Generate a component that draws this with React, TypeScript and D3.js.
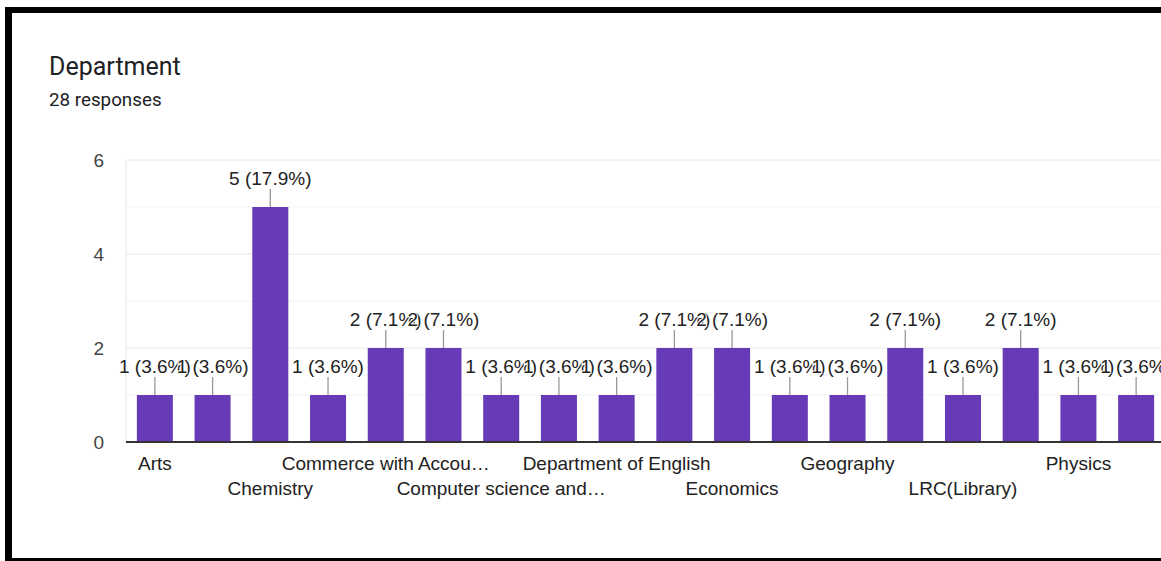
import React from "react";
import * as d3 from "d3";

const title = "Department";
const subtitle = "28 responses";
const categories = [
  "Arts",
  "Botany",
  "Chemistry",
  "Commerce",
  "Commerce with Accountancy",
  "Computer Applications",
  "Computer science and Engineering",
  "Department of Commerce",
  "Department of English",
  "Department of Mathematics",
  "Economics",
  "English",
  "Geography",
  "History",
  "LRC(Library)",
  "Mathematics",
  "Physics",
  "Zoology",
];
const counts = [1, 1, 5, 1, 2, 2, 1, 1, 1, 2, 2, 1, 1, 2, 1, 2, 1, 1];
const yTicks = [0, 2, 4, 6];
const yMinor = [1, 3, 5];
const total = 28;

const W = 1161;
const H = 561;
const FONT = "'Liberation Sans', Arial, sans-serif";
const FS = 19;

let ctx: CanvasRenderingContext2D | null = null;
function measure(s: string): number {
  if (!ctx) {
    const c = document.createElement("canvas");
    ctx = c.getContext("2d");
  }
  if (!ctx) return s.length * 10;
  ctx.font = `${FS}px 'Liberation Sans', Arial, sans-serif`;
  return ctx.measureText(s).width;
}

function truncate(label: string, maxW: number): string {
  if (measure(label) <= maxW) return label;
  let s = label;
  while (s.length > 1 && measure(s + "…") > maxW) s = s.slice(0, -1);
  return s.trimEnd() + "…";
}

export default function App() {
  const plotLeft = 126;
  const plotRight = 1165;
  const x = d3
    .scaleBand<string>()
    .domain(categories)
    .range([plotLeft, plotRight])
    .paddingInner(0.376)
    .paddingOuter(0.188);
  const y = d3.scaleLinear().domain([0, 6]).range([442, 160]);
  const bw = x.bandwidth();

  return (
    <svg
      width={W}
      height={H}
      style={{ position: "absolute", left: 0, top: 0, background: "#fff" }}
    >
      <rect x={0} y={0} width={W} height={H} fill="#fff" />
      {/* frame */}
      <rect x={5} y={7} width={W - 5} height={6} fill="#000" />
      <rect x={5} y={7} width={7} height={H - 7} fill="#000" />
      <rect x={5} y={558} width={W - 5} height={3} fill="#000" />

      <text x={49} y={75} fontFamily="Roboto, sans-serif" fontSize={25} fill="#202124">
        {title}
      </text>
      <text x={49} y={106} fontFamily="Roboto, sans-serif" fontSize={18.8} fill="#202124">
        {subtitle}
      </text>

      {/* gridlines */}
      {yMinor.map((t) => (
        <line key={"m" + t} x1={plotLeft} x2={W} y1={y(t)} y2={y(t)} stroke="#f3f3f3" strokeWidth={1} />
      ))}
      {yTicks.filter((t) => t !== 0).map((t) => (
        <line key={"g" + t} x1={plotLeft} x2={W} y1={y(t)} y2={y(t)} stroke="#e6e6e6" strokeWidth={1} />
      ))}
      <line x1={plotLeft} x2={plotLeft} y1={y(6)} y2={y(0)} stroke="#e6e6e6" strokeWidth={1} />

      {/* y tick labels */}
      {yTicks.map((t) => (
        <text
          key={"t" + t}
          x={104}
          y={y(t) + 6.5}
          textAnchor="end"
          fontFamily={FONT}
          fontSize={FS}
          fill="#444"
        >
          {t}
        </text>
      ))}

      {/* bars */}
      {categories.map((c, i) => (
        <rect key={"b" + c} x={x(c)} y={y(counts[i])} width={bw} height={y(0) - y(counts[i])} fill="#673ab7" />
      ))}

      {/* baseline */}
      <line x1={plotLeft} x2={W} y1={y(0)} y2={y(0)} stroke="#333" strokeWidth={2} />

      {/* value annotations */}
      {categories.map((c, i) => {
        const cx = (x(c) as number) + bw / 2;
        const top = y(counts[i]);
        const pct = ((counts[i] / total) * 100).toFixed(1);
        return (
          <g key={"a" + c}>
            <line x1={cx} x2={cx} y1={top} y2={top - 18} stroke="#999" strokeWidth={1.3} />
            <text
              x={cx}
              y={top - 22}
              textAnchor="middle"
              fontFamily={FONT}
              fontSize={FS}
              fill="#222"
              stroke="#fff"
              strokeWidth={2}
              paintOrder="stroke"
            >
              {`${counts[i]} (${pct}%)`}
            </text>
          </g>
        );
      })}

      {/* x labels, alternate rows, every other shown */}
      {categories.map((c, i) => {
        if (i % 2 !== 0) return null;
        const cx = (x(c) as number) + bw / 2;
        const row = (i / 2) % 2;
        return (
          <text
            key={"x" + c}
            x={cx}
            y={row === 0 ? 470 : 495}
            textAnchor="middle"
            fontFamily={FONT}
            fontSize={FS}
            fill="#222"
          >
            {truncate(c, 210)}
          </text>
        );
      })}
    </svg>
  );
}
